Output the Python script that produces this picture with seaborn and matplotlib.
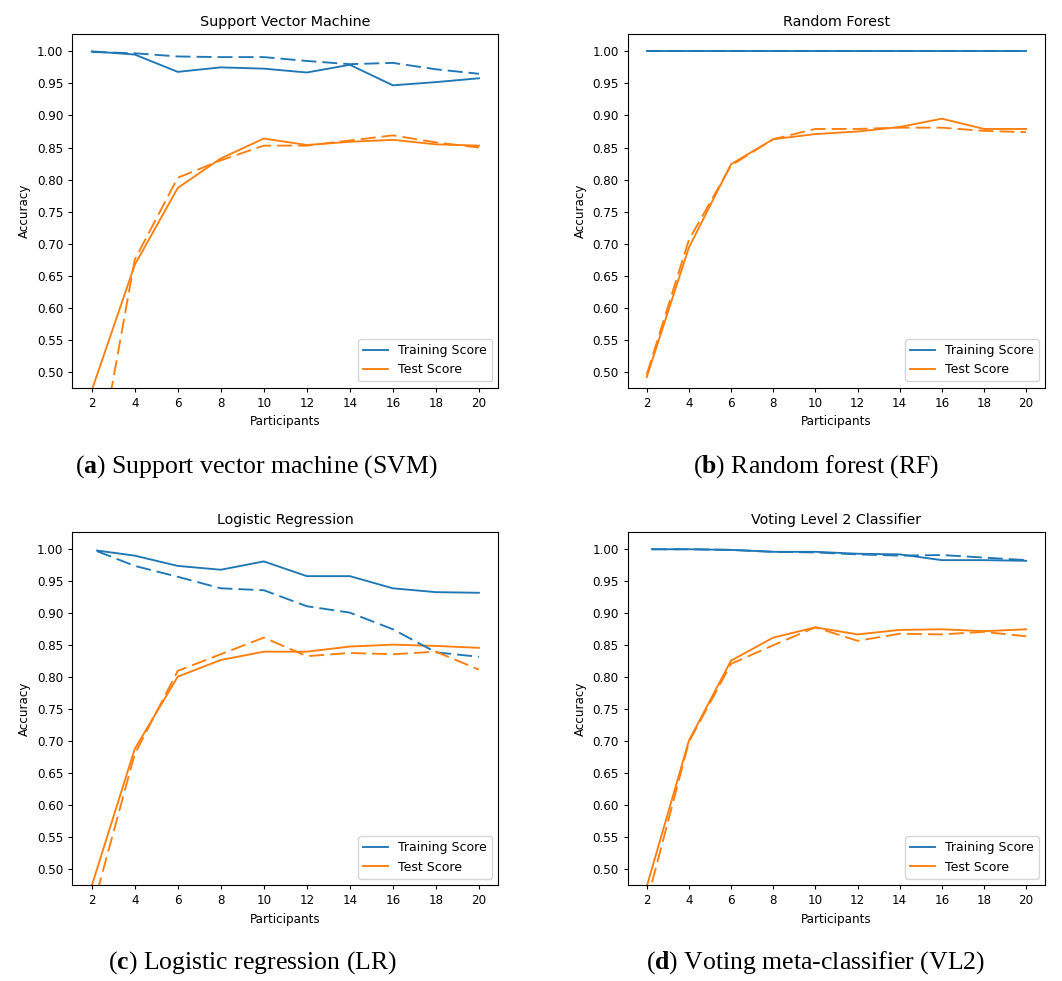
import matplotlib
matplotlib.use("Agg")
import matplotlib.pyplot as plt
import seaborn as sns

# participants on the x axis
participants = [2, 4, 6, 8, 10, 12, 14, 16, 18, 20]
participants_late = [2.25, 4, 6, 8, 10, 12, 14, 16, 18, 20]

# Support vector machine
svm_train = [1.000, 0.995, 0.968, 0.975, 0.973, 0.967, 0.979, 0.947, 0.952, 0.958]
svm_test = [0.471, 0.667, 0.787, 0.833, 0.864, 0.854, 0.859, 0.862, 0.855, 0.853]
svm_train_alt = [0.999, 0.997, 0.992, 0.991, 0.991, 0.985, 0.980, 0.982, 0.972, 0.965]
svm_test_alt = [0.302, 0.675, 0.803, 0.830, 0.853, 0.853, 0.861, 0.869, 0.858, 0.850]

# Random forest
rf_train = [1.0, 1.0, 1.0, 1.0, 1.0, 1.0, 1.0, 1.0, 1.0, 1.0]
rf_test = [0.492, 0.694, 0.824, 0.863, 0.871, 0.875, 0.882, 0.895, 0.879, 0.879]
rf_train_alt = [1.0, 1.0, 1.0, 1.0, 1.0, 1.0, 1.0, 1.0, 1.0, 1.0]
rf_test_alt = [0.496, 0.706, 0.822, 0.863, 0.879, 0.879, 0.881, 0.881, 0.876, 0.874]

# Logistic regression
lr_train = [0.998, 0.990, 0.974, 0.968, 0.981, 0.958, 0.958, 0.939, 0.933, 0.932]
lr_test = [0.474, 0.688, 0.801, 0.827, 0.840, 0.840, 0.848, 0.851, 0.849, 0.846]
lr_train_alt = [0.997, 0.974, 0.957, 0.939, 0.936, 0.911, 0.901, 0.875, 0.839, 0.832]
lr_test_alt = [0.433, 0.680, 0.810, 0.836, 0.862, 0.833, 0.838, 0.836, 0.840, 0.812]

# Voting level 2
vl2_train = [1.000, 1.000, 0.999, 0.996, 0.996, 0.993, 0.992, 0.983, 0.983, 0.982]
vl2_test = [0.473, 0.701, 0.826, 0.862, 0.878, 0.867, 0.874, 0.875, 0.872, 0.875]
vl2_train_alt = [1.000, 1.000, 0.999, 0.996, 0.995, 0.992, 0.990, 0.991, 0.987, 0.983]
vl2_test_alt = [0.448, 0.699, 0.821, 0.850, 0.878, 0.857, 0.868, 0.867, 0.871, 0.864]

titles = ["Support Vector Machine", "Random Forest",
          "Logistic Regression", "Voting Level 2 Classifier"]
captions = [r"($\mathbf{a}$) Support vector machine (SVM)",
            r"($\mathbf{b}$) Random forest (RF)",
            r"($\mathbf{c}$) Logistic regression (LR)",
            r"($\mathbf{d}$) Voting meta-classifier (VL2)"]

panels = [
    (participants, svm_train, svm_test, svm_train_alt, svm_test_alt),
    (participants, rf_train, rf_test, rf_train_alt, rf_test_alt),
    (participants_late, lr_train, lr_test, lr_train_alt, lr_test_alt),
    (participants_late, vl2_train, vl2_test, vl2_train_alt, vl2_test_alt),
]

plt.rcParams['font.size'] = 8.6
plt.rcParams['lines.linewidth'] = 1.35
plt.rcParams['xtick.major.size'] = 3
plt.rcParams['ytick.major.size'] = 3
plt.rcParams['mathtext.fontset'] = 'custom'
plt.rcParams['mathtext.rm'] = 'Liberation Serif'
plt.rcParams['mathtext.bf'] = 'Liberation Serif:bold'

blue = '#1f77b4'
orange = '#ff7f0e'
long_dash = (0, (8, 3.2))

fig = plt.figure(figsize=(10.62, 9.81), dpi=100)
boxes = [
    [0.0681, 0.6048, 0.4011, 0.3602],
    [0.5911, 0.6048, 0.3930, 0.3602],
    [0.0681, 0.0979, 0.4011, 0.3595],
    [0.5911, 0.0979, 0.3930, 0.3595],
]
caption_pos = [(0.241, 0.524), (0.768, 0.524), (0.238, 0.019), (0.768, 0.019)]

for i, (box, (train_x, tr, te, tr2, te2)) in enumerate(zip(boxes, panels)):
    ax = fig.add_axes(box)
    sns.lineplot(x=train_x, y=tr, ax=ax, color=blue, label='Training Score')
    sns.lineplot(x=participants, y=te, ax=ax, color=orange, label='Test Score')
    sns.lineplot(x=train_x, y=tr2, ax=ax, color=blue, linestyle=long_dash)
    sns.lineplot(x=participants, y=te2, ax=ax, color=orange, linestyle=long_dash)
    ax.set_xticks(participants)
    ax.set_ylim(0.4756, 1.0265)
    ax.set_yticks([0.50, 0.55, 0.60, 0.65, 0.70, 0.75, 0.80, 0.85, 0.90, 0.95, 1.00])
    ax.set_xlabel('Participants')
    ax.set_ylabel('Accuracy')
    ax.set_title(titles[i], fontsize=10.3)
    ax.legend(loc='lower right', fontsize=9)
    fig.text(caption_pos[i][0], caption_pos[i][1], captions[i],
             ha='center', va='center', fontsize=18.5, family='Liberation Serif')

plt.savefig('out.png', dpi=100)
